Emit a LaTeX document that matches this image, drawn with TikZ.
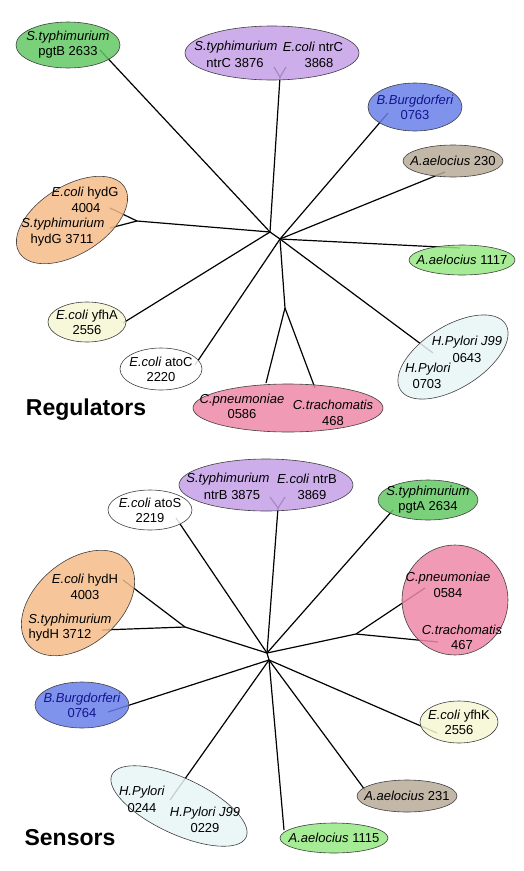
\documentclass[tikz,border=0pt]{standalone}
\usepackage{fontspec}
\setmainfont{Liberation Sans}
\usetikzlibrary{shapes.geometric,backgrounds}
\definecolor{sgreen}{RGB}{100,200,100}
\definecolor{lgreen}{RGB}{150,232,130}
\definecolor{lilac}{RGB}{196,160,232}
\definecolor{peach}{RGB}{244,188,136}
\definecolor{cream}{RGB}{246,246,212}
\definecolor{pale}{RGB}{232,244,244}
\definecolor{pinkc}{RGB}{238,136,168}
\definecolor{bblue}{RGB}{104,128,234}
\definecolor{taupe}{RGB}{184,170,152}
\definecolor{bbtext}{RGB}{20,20,140}
\newcommand{\leaffont}{\fontsize{13}{15}\selectfont}
\tikzset{
  leaf/.style={ellipse,draw=black!75,line width=.6pt,inner sep=0pt,fill opacity=.85,text opacity=1},
  lab/.style={inner sep=0pt,align=center,font=\leaffont},
  branch/.style={line width=1.2pt},
  treename/.style={inner sep=0pt,font=\bfseries\fontsize{23}{26}\selectfont}
}
\begin{document}
\begin{tikzpicture}[x=1pt,y=-1pt]
        \useasboundingbox (0,0) rectangle (523,871);
        % branch points, regulators
        \coordinate (hubA) at (270,232);
        \coordinate (hubB) at (280,239);
        \coordinate (ntrC-v) at (280,77);
        \coordinate (ntrC-l) at (274,67);
        \coordinate (ntrC-r) at (286,67);
        \coordinate (pgtB-e) at (100,50);
        \coordinate (hydG-n) at (137,221);
        \coordinate (hydG-a) at (110,208);
        \coordinate (hydG-b) at (110,228);
        \coordinate (yfhA-e) at (123,323);
        \coordinate (atoC-e) at (195,365);
        \coordinate (chl-n) at (285,308);
        \coordinate (cpn-e) at (266,383);
        \coordinate (ctr-e) at (315,388);
        \coordinate (bb-e) at (388,113);
        \coordinate (aa230-e) at (445,172);
        \coordinate (aa1117-e) at (460,248);
        \coordinate (hp-e) at (433,353);
        % branch points, sensors
        \coordinate (hubC) at (267,653);
        \coordinate (hubD) at (269,660);
        \coordinate (ntrB-v) at (278,508);
        \coordinate (ntrB-l) at (270,497);
        \coordinate (ntrB-r) at (285,497);
        \coordinate (atoS-e) at (176,518);
        \coordinate (pgtA-e) at (393,510);
        \coordinate (hydH-n) at (185,627);
        \coordinate (hydH-a) at (123,580);
        \coordinate (hydH-b) at (102,630);
        \coordinate (chl2-n) at (356,634);
        \coordinate (cpn2-e) at (425,588);
        \coordinate (ctr2-e) at (438,642);
        \coordinate (bb2-e) at (108,712);
        \coordinate (hp2-e) at (170,800);
        \coordinate (aa1115-e) at (284,830);
        \coordinate (aa231-e) at (365,790);
        \coordinate (yfhK-e) at (437,733);

        % regulators
        \node[leaf,fill=sgreen,minimum width=104,minimum height=46] (pgtB) at (68,45) {};
        \node[lab] (pgtB-t) at (pgtB) {\textit{S.typhimurium}\\pgtB 2633};
        \node[leaf,fill=lilac,minimum width=174,minimum height=54] (ntrC) at (272,53) {};
        \node[lab] (ntrC-t1) at (236,47) {\textit{S.typhimurium}};
        \node[lab] (ntrC-t2) at (235,63) {ntrC 3876};
        \node[lab] (ntrC-t3) at (313,47) {\textit{E.coli} ntrC};
        \node[lab] (ntrC-t4) at (319,63) {3868};
        \node[leaf,fill=peach,minimum width=124,minimum height=68,rotate=32] (hydG) at (72,220) {};
        \node[lab] (hydG-t1) at (85,193) {\textit{E.coli} hydG};
        \node[lab] (hydG-t2) at (86,208) {4004};
        \node[lab] (hydG-t3) at (63,224) {\textit{S.typhimurium}};
        \node[lab] (hydG-t4) at (62,240) {hydG 3711};
        \node[leaf,fill=cream,minimum width=78,minimum height=40] (yfhA) at (87,322) {};
        \node[lab] (yfhA-t) at (yfhA) {\textit{E.coli} yfhA\\2556};
        \node[leaf,fill=white,minimum width=82,minimum height=42] (atoC) at (161,369) {};
        \node[lab] (atoC-t) at (atoC) {\textit{E.coli} atoC\\2220};
        \node[leaf,fill=pinkc,minimum width=190,minimum height=48] (chl) at (288,408) {};
        \node[lab] (chl-t1) at (242,400) {\textit{C.pneumoniae}};
        \node[lab] (chl-t2) at (242,414) {0586};
        \node[lab] (chl-t3) at (333,405) {\textit{C.trachomatis}};
        \node[lab] (chl-t4) at (333,421) {468};
        \node[leaf,fill=bblue,minimum width=94,minimum height=48] (bb) at (415,107) {};
        \node[lab,text=bbtext] (bb-t) at (bb) {\textit{B.Burgdorferi}\\0763};
        \node[leaf,fill=taupe,minimum width=100,minimum height=32] (aa230) at (453,161) {};
        \node[lab] (aa230-t) at (aa230) {\textit{A.aelocius} 230};
        \node[leaf,fill=lgreen,minimum width=106,minimum height=30] (aa1117) at (462,260) {};
        \node[lab] (aa1117-t) at (aa1117) {\textit{A.aelocius} 1117};
        \node[leaf,fill=pale,minimum width=124,minimum height=62,rotate=32] (hp) at (453,357) {};
        \node[lab] (hp-t1) at (467,342) {\textit{H.Pylori J99}};
        \node[lab] (hp-t2) at (467,358) {0643};
        \node[lab] (hp-t3) at (428,369) {\textit{H.Pylori}};
        \node[lab] (hp-t4) at (427,384) {0703};
        \node[treename] (reg) at (86,410) {Regulators};

        % sensors
        \node[leaf,fill=lilac,minimum width=174,minimum height=52] (ntrB) at (266,485) {};
        \node[lab] (ntrB-t1) at (228,479) {\textit{S.typhimurium}};
        \node[lab] (ntrB-t2) at (232,495) {ntrB 3875};
        \node[lab] (ntrB-t3) at (307,479) {\textit{E.coli} ntrB};
        \node[lab] (ntrB-t4) at (312,495) {3869};
        \node[leaf,fill=white,minimum width=84,minimum height=40] (atoS) at (150,510) {};
        \node[lab] (atoS-t) at (atoS) {\textit{E.coli} atoS\\2219};
        \node[leaf,fill=sgreen,minimum width=100,minimum height=40] (pgtA) at (428,500) {};
        \node[lab] (pgtA-t) at (pgtA) {\textit{S.typhimurium}\\pgtA 2634};
        \node[leaf,fill=peach,minimum width=130,minimum height=84,rotate=40] (hydH) at (78,603) {};
        \node[lab] (hydH-t1) at (85,580) {\textit{E.coli} hydH};
        \node[lab] (hydH-t2) at (85,595) {4003};
        \node[lab] (hydH-t3) at (70,620) {\textit{S.typhimurium}};
        \node[lab] (hydH-t4) at (60,635) {hydH 3712};
        \node[leaf,fill=pinkc,minimum width=106,minimum height=110] (chl2) at (455,600) {};
        \node[lab] (chl2-t1) at (448,578) {\textit{C.pneumoniae}};
        \node[lab] (chl2-t2) at (448,593) {0584};
        \node[lab] (chl2-t3) at (462,630) {\textit{C.trachomatis}};
        \node[lab] (chl2-t4) at (462,645) {467};
        \node[leaf,fill=bblue,minimum width=94,minimum height=46] (bb2) at (82,705) {};
        \node[lab,text=bbtext] (bb2-t) at (bb2) {\textit{B.Burgdorferi}\\0764};
        \node[leaf,fill=pale,minimum width=148,minimum height=56,rotate=-25] (hp2) at (179,806) {};
        \node[lab] (hp2-t1) at (142,792) {\textit{H.Pylori}};
        \node[lab] (hp2-t2) at (142,808) {0244};
        \node[lab] (hp2-t3) at (205,813) {\textit{H.Pylori J99}};
        \node[lab] (hp2-t4) at (205,828) {0229};
        \node[leaf,fill=lgreen,minimum width=108,minimum height=30] (aa1115) at (334,838) {};
        \node[lab] (aa1115-t) at (aa1115) {\textit{A.aelocius} 1115};
        \node[leaf,fill=taupe,minimum width=100,minimum height=32] (aa231) at (407,796) {};
        \node[lab] (aa231-t) at (aa231) {\textit{A.aelocius} 231};
        \node[leaf,fill=cream,minimum width=78,minimum height=42] (yfhK) at (459,722) {};
        \node[lab] (yfhK-t) at (yfhK) {\textit{E.coli} yfhK\\2556};
        \node[treename] (sens) at (70,838) {Sensors};

        % tree branches, behind the leaves
        \begin{pgfonlayer}{background}
          \foreach \a/\b in {hubA/hubB,hubA/ntrC-v,hubA/pgtB-e,hubA/hydG-n,hydG-n/hydG-a,hydG-n/hydG-b,
                             hubA/yfhA-e,hubB/atoC-e,hubB/chl-n,chl-n/cpn-e,chl-n/ctr-e,hubB/bb-e,
                             hubB/aa230-e,hubB/aa1117-e,hubB/hp-e}
            \draw[branch] (\a) -- (\b);
          \draw[branch] (ntrC-l) -- (ntrC-v) -- (ntrC-r);
          \foreach \a/\b in {hubC/hubD,hubC/ntrB-v,hubC/atoS-e,hubC/pgtA-e,hubC/hydH-n,hydH-n/hydH-a,
                             hydH-n/hydH-b,hubC/chl2-n,chl2-n/cpn2-e,chl2-n/ctr2-e,hubD/bb2-e,
                             hubD/hp2-e,hubD/aa1115-e,hubD/aa231-e,hubD/yfhK-e}
            \draw[branch] (\a) -- (\b);
          \draw[branch] (ntrB-l) -- (ntrB-v) -- (ntrB-r);
        \end{pgfonlayer}
\end{tikzpicture}
\end{document}
